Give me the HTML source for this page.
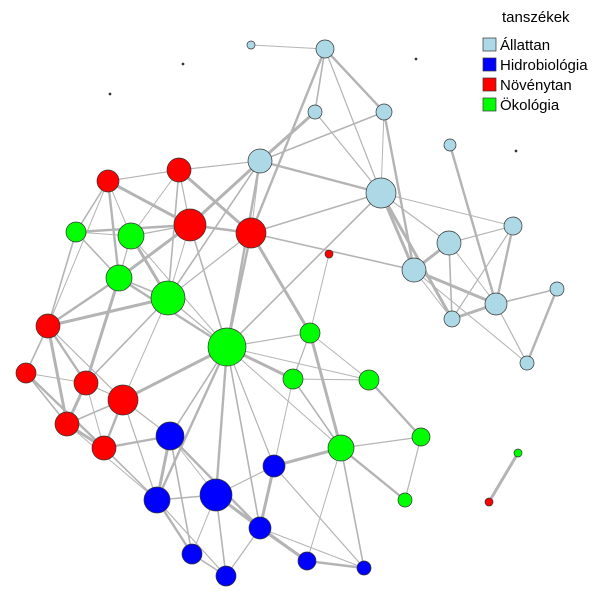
<!DOCTYPE html>
<html><head><meta charset="utf-8"><style>
html,body{margin:0;padding:0;background:#fff;}
svg{display:block;font-family:"Liberation Sans",sans-serif;}
</style></head><body>
<svg width="616" height="600" viewBox="0 0 616 600" xmlns="http://www.w3.org/2000/svg">
<g id="edges" stroke="#b4b4b4" stroke-linecap="round" fill="none"></g>
<g id="nodes" stroke="#333" stroke-width="0.7"></g>
<g font-size="15" fill="#000">
<text x="502" y="22">tanszékek</text>
<rect x="483" y="38" width="13" height="13" fill="#add8e6" stroke="#333" stroke-width="0.7"/><text x="500" y="50">Állattan</text>
<rect x="483" y="58" width="13" height="13" fill="#0000ff" stroke="#333" stroke-width="0.7"/><text x="500" y="70">Hidrobiológia</text>
<rect x="483" y="78" width="13" height="13" fill="#ff0000" stroke="#333" stroke-width="0.7"/><text x="500" y="90">Növénytan</text>
<rect x="483" y="98" width="13" height="13" fill="#00ff00" stroke="#333" stroke-width="0.7"/><text x="500" y="110">Ökológia</text>
</g>
<script>
const N={
A1:[251,45,4,'a'],A2:[325,49,9,'a'],A3:[315,112,7,'a'],A4:[384,112,8,'a'],A5:[260,161,12,'a'],A6:[381,193,15,'a'],A7:[450,145,6,'a'],A8:[449,243,12,'a'],A9:[513,226,9,'a'],A10:[414,270,12,'a'],A11:[557,289,7,'a'],A12:[496,304,11,'a'],A13:[452,319,8,'a'],A14:[527,363,7,'a'],
R1:[108,181,11,'r'],R2:[179,170,12,'r'],R3:[190,225,16,'r'],R4:[251,233,15,'r'],R5:[329,254,4,'r'],R6:[48,326,12,'r'],R7:[26,373,10,'r'],R8:[86,383,12,'r'],R9:[123,400,15,'r'],R10:[67,424,12,'r'],R11:[104,448,12,'r'],R12:[489,502,4,'r'],
G1:[76,232,10,'g'],G2:[131,236,13,'g'],G3:[119,278,13,'g'],G4:[168,298,17,'g'],G5:[227,347,19,'g'],G6:[310,333,10,'g'],G7:[293,379,10,'g'],G8:[369,380,10,'g'],G9:[341,448,13,'g'],G10:[421,437,9,'g'],G11:[405,500,7,'g'],G12:[518,453,4,'g'],
B1:[170,436,14,'b'],B2:[274,466,11,'b'],B3:[157,500,13,'b'],B4:[216,495,16,'b'],B5:[260,528,11,'b'],B6:[192,554,10,'b'],B7:[226,576,10,'b'],B8:[307,561,9,'b'],B9:[364,568,7,'b']};
const E="A1-A2 A2-A3 A2-A4 A2-A6 A3-A5 A4-A6 A4-A5 A5-A6 A5-R2 A5-R3 A5-R4 A5-G4 A5-G5 A6-A8 A6-A10 A6-A9 A6-R4 A7-A12 A8-A9 A8-A10 A8-A12 A8-A13 A9-A12 A9-A13 A10-A12 A10-A13 A11-A12 A11-A14 A12-A14 A12-A13 A10-A14 A6-G5 A4-A10 A3-A6 A6-A13 R5-G6 R4-A10 A2-R4 R1-R2 R1-R3 R1-G2 R1-G1 R1-G3 R2-R3 R2-R4 R2-G2 R2-G4 R3-R4 R3-G2 R3-G3 R3-G4 R3-G5 R4-G5 R4-G4 R4-G6 G1-G2 G1-G3 G1-R3 G2-G3 G2-G4 G2-G5 G3-G4 G3-G5 G4-G5 G4-R6 G4-R9 G4-R8 G3-R6 G5-G6 G5-G7 G5-G9 G5-B1 G5-B4 G5-B2 G5-R9 G5-G8 G5-B5 G5-B3 G6-G7 G6-G9 G7-G8 G7-G9 G8-G10 G9-G10 G9-B2 G9-B8 G9-B9 G9-G11 G10-G11 G12-R12 G6-G8 R6-R7 R6-R8 R6-R9 R6-R10 R7-R8 R7-R10 R7-R11 R8-R9 R8-R10 R8-R11 R9-R10 R9-R11 R9-B1 R10-R11 R10-B3 R11-B3 R11-B1 R9-B3 B1-B3 B1-B4 B1-B6 B1-B5 B2-B4 B2-B5 B2-G7 B3-B4 B3-B6 B3-B7 B4-B5 B4-B6 B4-B7 B4-B8 B5-B7 B5-B8 B5-B9 B6-B7 B8-B9 B2-B9 R8-G3 R1-R6 G1-R6".split(' ');
const C={a:'#add8e6',r:'#ff0000',g:'#00ff00',b:'#0000ff'};
const ns="http://www.w3.org/2000/svg";
const eg=document.getElementById('edges'),ng=document.getElementById('nodes');
E.forEach((e,i)=>{const[p,q]=e.split('-');const a=N[p],b=N[q];const l=document.createElementNS(ns,'line');
l.setAttribute('x1',a[0]);l.setAttribute('y1',a[1]);l.setAttribute('x2',b[0]);l.setAttribute('y2',b[1]);
l.setAttribute('stroke-width',[1,1.6,2.4,1.2,3][i%5]);eg.appendChild(l);});
for(const k in N){const n=N[k];const c=document.createElementNS(ns,'circle');c.setAttribute('cx',n[0]);c.setAttribute('cy',n[1]);c.setAttribute('r',n[2]);c.setAttribute('fill',C[n[3]]);ng.appendChild(c);}
[[183,64],[110,94],[416,59],[516,151]].forEach(p=>{const c=document.createElementNS(ns,'circle');c.setAttribute('cx',p[0]);c.setAttribute('cy',p[1]);c.setAttribute('r',1);c.setAttribute('fill','#333');ng.appendChild(c);});
</script>
</svg>
</body></html>
